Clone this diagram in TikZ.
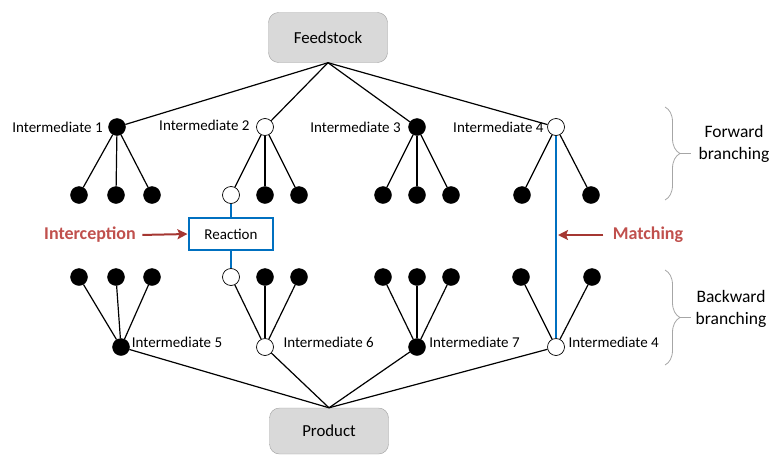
\documentclass[tikz,border=0pt]{standalone}
\usepackage{fontspec}
\setmainfont{Carlito}
\usetikzlibrary{positioning,arrows.meta,decorations.pathreplacing}

\definecolor{boxgray}{RGB}{217,217,217}
\definecolor{linkblue}{RGB}{0,112,192}
\definecolor{notered}{RGB}{192,80,77}
\definecolor{arrowred}{RGB}{165,55,50}

\tikzset{
	endbox/.style={draw=gray!75, fill=boxgray, rounded corners=10pt, minimum width=119pt, minimum height=50pt, font=\fontsize{16.8}{20}\selectfont},
	rbox/.style={draw=linkblue, fill=white, line width=1.1pt, minimum width=84pt, minimum height=32pt, font=\fontsize{15}{18}\selectfont},
	full/.style={circle, fill=black, draw=black, minimum size=17pt, inner sep=0pt},
	hollow/.style={circle, fill=white, draw=black, line width=0.7pt, minimum size=17pt, inner sep=0pt},
	lbl/.style={font=\fontsize{15}{18}\selectfont, inner sep=0pt},
	note/.style={font=\bfseries\fontsize{18}{21}\selectfont, text=notered},
	side/.style={align=center, font=\fontsize{17.5}{22}\selectfont},
	branch/.style={line width=1.2pt},
	link/.style={linkblue, line width=2.8pt},
	pointer/.style={arrowred, line width=2pt, -{Stealth[length=10pt,width=10pt,inset=2pt]}},
	bracket/.style={gray!70, line width=0.8pt, decorate, decoration={brace, amplitude=15pt}}
}

\begin{document}
\begin{tikzpicture}[x=1pt,y=-1pt]
	\useasboundingbox (0,0) rectangle (775,455);

	% End points of the route
	\node[endbox] (feed) at (328,37.5) {Feedstock};
	\node[endbox, minimum height=46pt] (prod) at (329,431) {Product};

	% Intermediates reached from the feedstock
	\node[full, label={[lbl,label distance=5.5pt]left:Intermediate 1}] (i1) at (117,127) {};
	\node[hollow, label={[lbl,label distance=6.5pt,yshift=2pt]left:Intermediate 2}] (i2) at (265,127) {};
	\node[full, label={[lbl,label distance=7.5pt]left:Intermediate 3}] (i3) at (417,127) {};
	\node[hollow, label={[lbl,label distance=3.5pt]left:Intermediate 4}] (i4) at (556,127) {};

	\node[full] (f1a) at (79,195) {};
	\node[full] (f1b) at (116,195) {};
	\node[full] (f1c) at (152,195) {};
	\node[hollow] (f2a) at (231,195) {};
	\node[full] (f2b) at (265,195) {};
	\node[full] (f2c) at (299,195) {};
	\node[full] (f3a) at (383,195) {};
	\node[full] (f3b) at (417,195) {};
	\node[full] (f3c) at (451,195) {};
	\node[full] (f4a) at (522,195) {};
	\node[full] (f4b) at (591,195) {};

	% Intermediates leading to the product
	\node[full] (b1a) at (79,277) {};
	\node[full] (b1b) at (116,277) {};
	\node[full] (b1c) at (152,277) {};
	\node[hollow] (b2a) at (231,277) {};
	\node[full] (b2b) at (265,277) {};
	\node[full] (b2c) at (299,277) {};
	\node[full] (b3a) at (383,277) {};
	\node[full] (b3b) at (417,277) {};
	\node[full] (b3c) at (451,277) {};
	\node[full] (b4a) at (521,277) {};
	\node[full] (b4b) at (592,277) {};

	\node[full, label={[lbl,label distance=2pt,yshift=5pt]right:Intermediate 5}] (i5) at (121,347) {};
	\node[hollow, label={[lbl,label distance=9.5pt,yshift=5pt]right:Intermediate 6}] (i6) at (265,347) {};
	\node[full, label={[lbl,label distance=3.5pt,yshift=5pt]right:Intermediate 7}] (i7) at (417,347) {};
	\node[hollow, label={[lbl,label distance=3.5pt,yshift=5pt]right:Intermediate 4}] (i4b) at (556,347) {};

	% Forward branches
	\draw[branch] (feed.south) -- (i1);
	\draw[branch] (feed.south) -- (i2);
	\draw[branch] (feed.south) -- (i3);
	\draw[branch] (feed.south) -- (i4);
	\draw[branch] (i1) -- (f1a);
	\draw[branch] (i1) -- (f1b);
	\draw[branch] (i1) -- (f1c);
	\draw[branch] (i2) -- (f2a);
	\draw[branch] (i2) -- (f2b);
	\draw[branch] (i2) -- (f2c);
	\draw[branch] (i3) -- (f3a);
	\draw[branch] (i3) -- (f3b);
	\draw[branch] (i3) -- (f3c);
	\draw[branch] (i4) -- (f4a);
	\draw[branch] (i4) -- (f4b);

	% Backward branches
	\draw[branch] (b1a) -- (i5);
	\draw[branch] (b1b) -- (i5);
	\draw[branch] (b1c) -- (i5);
	\draw[branch] (b2a) -- (i6);
	\draw[branch] (b2b) -- (i6);
	\draw[branch] (b2c) -- (i6);
	\draw[branch] (b3a) -- (i7);
	\draw[branch] (b3b) -- (i7);
	\draw[branch] (b3c) -- (i7);
	\draw[branch] (b4a) -- (i4b);
	\draw[branch] (b4b) -- (i4b);
	\draw[branch] (i5) -- (prod.north);
	\draw[branch] (i6) -- (prod.north);
	\draw[branch] (i7) -- (prod.north);
	\draw[branch] (i4b) -- (prod.north);

	% Interception through a reaction
	\node[rbox] (react) at (231,234) {Reaction};
	\draw[link] (f2a) -- (react);
	\draw[link] (react) -- (b2a);
	\node[note] (icp) at (90,235) {Interception};
	\draw[pointer, shorten <=3pt, shorten >=1pt] (icp.east) -- (react.west);

	% Matching of the same intermediate
	\draw[link] (i4) -- (i4b);
	\node[note] (mat) at (648,235) {Matching};
	\draw[pointer, shorten >=2pt] ([xshift=-6pt]mat.west) -- (mat.west -| i4);

	% Braces on the right
	\draw[bracket] (665,107) -- (665,200);
	\coordinate (ftip) at (680,153.5);
	\draw[gray!70, line width=0.8pt] (ftip) -- ++(11,0);
	\node[side] (fwd) at (734,144) {Forward\\branching};

	\draw[bracket] (665,270) -- (665,365);
	\coordinate (btip) at (680,317.5);
	\draw[gray!70, line width=0.8pt] (btip) -- ++(11,0);
	\node[side] (bwd) at (731,309) {Backward\\branching};
\end{tikzpicture}
\end{document}
